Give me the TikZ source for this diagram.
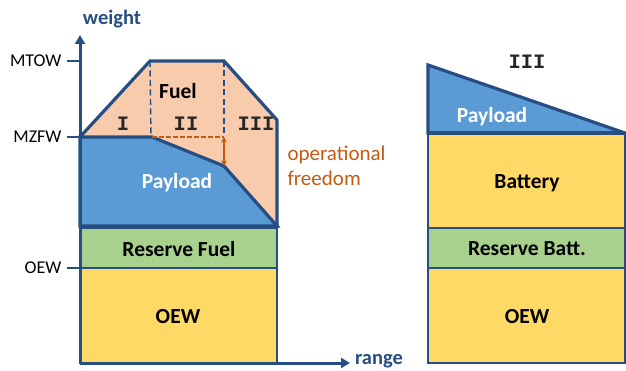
\documentclass[tikz,border=0pt]{standalone}
\usepackage{fontspec}
\setmainfont{Carlito}
\newfontfamily\numfont{Liberation Mono}
\usetikzlibrary{arrows.meta}
\definecolor{navy}{HTML}{264E82}
\definecolor{fuelc}{HTML}{F8CBAD}
\definecolor{payc}{HTML}{5B9BD5}
\definecolor{resc}{HTML}{A9D18E}
\definecolor{oewc}{HTML}{FFD966}
\definecolor{opc}{HTML}{C55A11}
\tikzset{
  border/.style={draw=navy, line width=3.2pt, line join=miter},
  block/.style={draw=navy, line width=2.3pt},
  lbl/.style={font=\fontsize{21.5}{24}\selectfont\bfseries, text=black},
  wlbl/.style={font=\fontsize{21.5}{24}\selectfont\bfseries, text=white},
  rom/.style={font=\fontsize{20.5}{24}\selectfont\numfont\bfseries, text=black!85},
  axlbl/.style={font=\fontsize{18}{20}\selectfont, text=black, anchor=east},
  axname/.style={font=\fontsize{20.5}{22}\selectfont\bfseries, text=navy},
  tick/.style={draw=navy, line width=1.5pt},
  axis/.style={draw=navy, line width=3pt, -{Triangle[length=9pt,width=10pt]}},
  fdash/.style={draw=navy, line width=1.4pt, dash pattern=on 6pt off 3.5pt},
  odash/.style={draw=opc, line width=1.6pt, dash pattern=on 4.5pt off 2.5pt},
}
\begin{document}
\begin{tikzpicture}[x=1pt,y=-1pt]
\useasboundingbox (0,0) rectangle (626,371);

% key points of the left chart
\coordinate (o)    at (80,363);
\coordinate (mzl)  at (80,137);
\coordinate (ftl)  at (150,61);
\coordinate (ftr)  at (224,61);
\coordinate (fr)   at (277,120);
\coordinate (br)   at (277,228);
\coordinate (pk)   at (152,137);
\coordinate (pm)   at (224,166);
\coordinate (pr)   at (277,226);
\coordinate (om)   at (224,137);

% fuel region and payload region
\fill[fuelc] (mzl) -- (ftl) -- (ftr) -- (fr) -- (br) -- (80,228) -- cycle;
\filldraw[fill=payc, border] (mzl) -- (pk) -- (pm) -- (pr) -- (80,226) -- cycle;
\draw[border] (mzl) -- (ftl) -- (ftr) -- (fr) -- (br);

% segment separators and operational freedom marker
\draw[fdash] (ftl) -- (151,137);
\draw[fdash] (ftr) -- (om);
\draw[odash] (pk) -- (om);
\draw[draw=opc, line width=1.6pt, {Stealth[length=5.5pt,width=5.5pt]}-{Stealth[length=5.5pt,width=5.5pt]}] (om) -- (pm);

% reserve and empty weight blocks
\filldraw[fill=resc, block] (80,228) rectangle (277,268);
\filldraw[fill=oewc, block] (80,268) rectangle (277,363);
\draw[border] (80,227) -- (277,227);

% axes
\draw[axis] (o) -- (80,35);
\draw[axis] (o) -- (350,363);
\node[axname] (wt) at (112,19) {weight};
\node[axname] (rg) at (379,361) {range};

% ticks
\draw[tick] (67,61) -- (80,61);
\draw[tick] (67,137) -- (80,137);
\draw[tick] (67,268) -- (80,268);
\node[axlbl] (tmtow) at (65,61) {MTOW};
\node[axlbl] (tmzfw) at (65,137) {MZFW};
\node[axlbl] (toew) at (65,268) {OEW};

% left labels
\node[lbl] (lfuel) at (178,91) {Fuel};
\node[rom] (r1) at (123,124) {I};
\node[rom] (r2) at (186,124) {II};
\node[rom] (r3) at (256,124) {III};
\node[wlbl] (lpay) at (177,183) {Payload};
\node[lbl] (lres) at (179,249) {Reserve Fuel};
\node[lbl] (loew) at (178,317) {OEW};
\node[font=\fontsize{21}{25}\selectfont, text=opc, align=left, anchor=west] (opf) at (284,166) {operational\\freedom};

% right chart
\filldraw[fill=payc, border] (428,65) -- (625,133) -- (428,133) -- cycle;
\filldraw[fill=oewc, block] (428,133) rectangle (625,228);
\filldraw[fill=resc, block] (428,228) rectangle (625,268);
\filldraw[fill=oewc, block] (428,268) rectangle (625,363);
\draw[border] (428,133) -- (625,133);

\node[rom] (rr3) at (527,62) {III};
\node[wlbl] (rpay) at (492,117) {Payload};
\node[lbl] (rbat) at (527,183) {Battery};
\node[lbl] (rres) at (527,249) {Reserve Batt.};
\node[lbl] (roew) at (527,317) {OEW};
\end{tikzpicture}
\end{document}
